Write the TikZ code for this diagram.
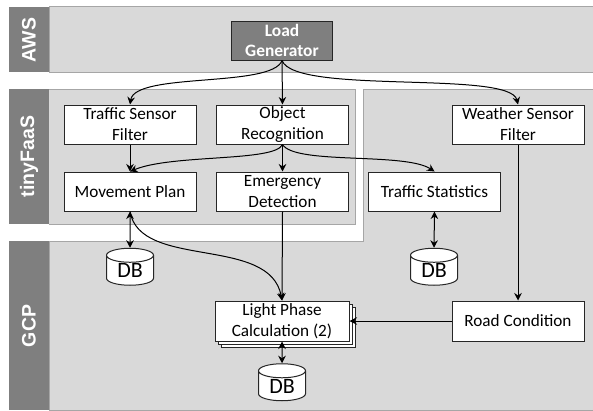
\documentclass[tikz,border=0pt]{standalone}
\usepackage{fontspec}
\setmainfont{Carlito}
\newfontfamily\labelfont{Liberation Sans}
\usetikzlibrary{shapes.geometric,arrows.meta}
\definecolor{panel}{HTML}{D9D9D9}
\definecolor{panedge}{HTML}{A6A6A6}
\definecolor{tag}{HTML}{7F7F7F}
\tikzset{
  panelfill/.style={fill=panel,draw=panedge,line width=0.9pt},
  tagbox/.style={fill=tag,draw=none},
  taglabel/.style={rotate=90,text=white,font=\labelfont\bfseries\fontsize{19.5}{19.5}\selectfont,inner sep=0pt},
  fnbox/.style={draw=black!85,fill=white,line width=1pt,minimum width=132pt,minimum height=39pt,inner sep=0pt,align=center,font=\fontsize{17.2}{21}\selectfont},
  loadbox/.style={fnbox,fill=tag,text=white,minimum width=101pt,font=\bfseries\fontsize{17.4}{20.5}\selectfont},
  stackbox/.style={draw=black!85,fill=white,line width=1pt,minimum width=134pt,minimum height=40pt,inner sep=0pt},
  dbcyl/.style={cylinder,shape border rotate=90,aspect=0.55,draw=black!85,fill=white,line width=1pt,minimum width=47pt,minimum height=37pt,inner sep=0pt,font=\fontsize{22}{22}\selectfont},
  conn/.style={draw=black,line width=1pt,-{Stealth[length=7.5pt,width=7.5pt]}},
  biconn/.style={draw=black,line width=1pt,{Stealth[length=7.5pt,width=7.5pt]}-{Stealth[length=7.5pt,width=7.5pt]}}
}
\begin{document}
\begin{tikzpicture}[x=1pt,y=-1pt]
\useasboundingbox (0,0) rectangle (593,410);
\fill[white] (0,0) rectangle (593,410);
% panels
\draw[panelfill] (593,6.5) -- (49,6.5) -- (49,72) -- (593,72);
\draw[panelfill] (49,89) -- (355,89) -- (355,224) -- (49,224);
\draw[panelfill] (593,89) -- (363,89) -- (363,241) -- (49,241) -- (49,410) -- (593,410);
\fill[tagbox] (9,6.5) rectangle (49,72);
\fill[tagbox] (9,89) rectangle (49,224);
\fill[tagbox] (9,241) rectangle (49,410);
\node[taglabel] (aws) at (29,40) {AWS};
\node[taglabel] (tiny) at (29,156.5) {tinyFaaS};
\node[taglabel] (gcp) at (29,326) {GCP};
% boxes
\node[loadbox] (lg) at (282,40.5) {Load\\Generator};
\node[fnbox] (tsf) at (130,124.5) {Traffic Sensor\\Filter};
\node[fnbox] (or) at (282.5,124.5) {Object\\Recognition};
\node[fnbox] (wsf) at (518,124.5) {Weather Sensor\\Filter};
\node[fnbox] (mp) at (130,191.5) {Movement Plan};
\node[fnbox] (ed) at (282.5,191.5) {Emergency\\Detection};
\node[fnbox] (ts) at (434.5,191.5) {Traffic Statistics};
\node[fnbox,minimum height=40pt] (rc) at (518,321) {Road Condition};
\node[stackbox] (lpc) at (288,327) {};
\node[stackbox] (lpb) at (285,324) {};
\node[fnbox,minimum width=134pt,minimum height=40pt] (lp) at (282,321) {Light Phase\\Calculation (2)};
\node[dbcyl] (db1) at (130,270.5) {\raisebox{-2pt}{DB}};
\node[dbcyl] (db2) at (434,270.5) {\raisebox{-2pt}{DB}};
\node[dbcyl] (db3) at (282,386) {\raisebox{-2pt}{DB}};
% connectors
\draw[conn] (lg.south) .. controls (272,88) and (135,72) .. (tsf.north);
\draw[conn] (lg.south) -- (or.north);
\draw[conn] (lg.south) .. controls (295,95) and (510,70) .. (wsf.north);
\draw[conn] (tsf.south) -- (mp.north);
\draw[conn] (or.south) .. controls (275,162) and (172,154) .. (mp.north);
\draw[conn] (or.south) -- (ed.north);
\draw[conn] (or.south) .. controls (295,165) and (405,152) .. (ts.north);
\draw[conn] (wsf.south) -- (rc.north);
\draw[conn] (ed.south) -- (lp.north);
\draw[conn] (mp.south) .. controls (140,270) and (270,235) .. (lp.north);
\draw[conn] (rc.west) -- (lp.east);
\draw[biconn] (mp.south) -- (db1.north);
\draw[biconn] (ts.south) -- (db2.north);
\draw[biconn] (lp.south) -- (db3.north);
\end{tikzpicture}
\end{document}
